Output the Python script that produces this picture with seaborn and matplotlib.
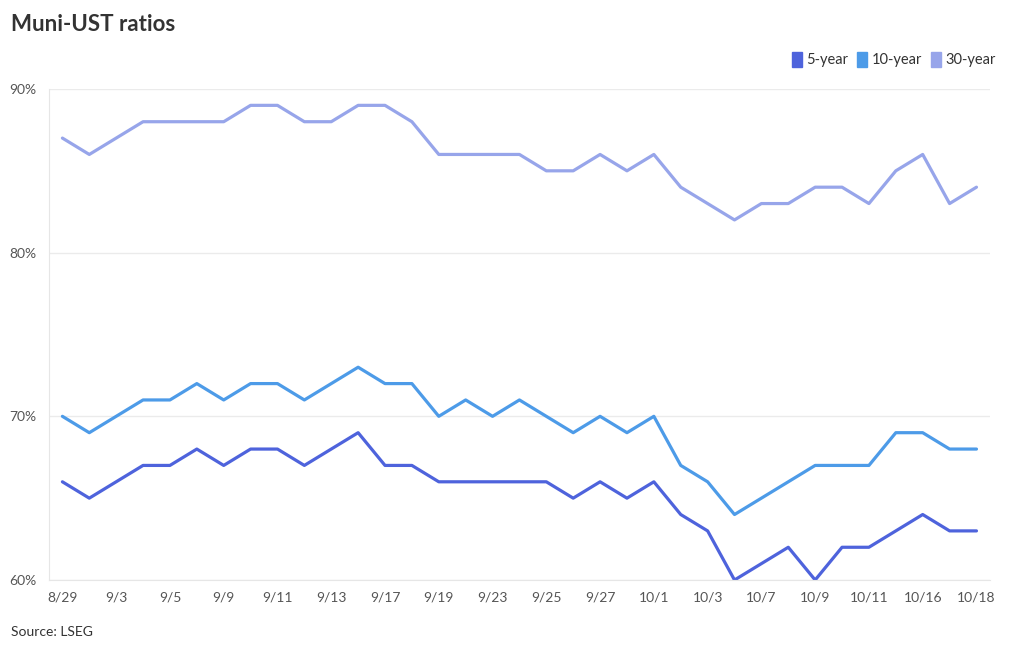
import matplotlib
matplotlib.use("Agg")
import matplotlib.pyplot as plt
import matplotlib.patches as mpatches
from matplotlib.ticker import FuncFormatter
import pandas as pd
import seaborn as sns

# Business days from 8/29 to 10/18
dates = ["8/29", "8/30", "9/3", "9/4", "9/5", "9/6", "9/9", "9/10", "9/11", "9/12",
         "9/13", "9/16", "9/17", "9/18", "9/19", "9/20", "9/23", "9/24", "9/25", "9/26",
         "9/27", "9/30", "10/1", "10/2", "10/3", "10/4", "10/7", "10/8", "10/9", "10/10",
         "10/11", "10/15", "10/16", "10/17", "10/18"]

# Muni/UST ratios in percent
five_year = [66, 65, 66, 67, 67, 68, 67, 68, 68, 67, 68, 69, 67, 67, 66, 66, 66, 66,
             66, 65, 66, 65, 66, 64, 63, 60, 61, 62, 60, 62, 62, 63, 64, 63, 63]
ten_year = [70, 69, 70, 71, 71, 72, 71, 72, 72, 71, 72, 73, 72, 72, 70, 71, 70, 71,
            70, 69, 70, 69, 70, 67, 66, 64, 65, 66, 67, 67, 67, 69, 69, 68, 68]
thirty_year = [87, 86, 87, 88, 88, 88, 88, 89, 89, 88, 88, 89, 89, 88, 86, 86, 86, 86,
               85, 85, 86, 85, 86, 84, 83, 82, 83, 83, 84, 84, 83, 85, 86, 83, 84]

series_names = ["5-year", "10-year", "30-year"]
colors = ["#4e63dc", "#4d9be8", "#97a5ea"]

df = pd.DataFrame({"Date": dates, "5-year": five_year,
                   "10-year": ten_year, "30-year": thirty_year})
df["pos"] = range(len(dates))
long_df = df.melt(id_vars=["Date", "pos"], var_name="Tenor", value_name="Ratio")

sns.set_style("white")
plt.rcParams["font.family"] = ["Lato", "DejaVu Sans"]

fig = plt.figure(figsize=(10.2, 6.5), dpi=100)
ax = fig.add_axes([0.048, 0.1077, 0.9225, 0.7554])

sns.lineplot(data=long_df, x="pos", y="Ratio", hue="Tenor", hue_order=series_names,
             palette=colors, linewidth=2.3, legend=False, ax=ax)
for line in ax.lines:
    line.set_solid_joinstyle("round")
    line.set_solid_capstyle("round")

ax.set_xlim(-0.5, len(dates) - 0.5)
ax.set_ylim(60, 90)
ax.set_yticks([60, 70, 80, 90])
ax.yaxis.set_major_formatter(FuncFormatter(lambda v, p: f"{v:.0f}%"))
ax.grid(axis="y", color="#ebebeb", linewidth=1)
ax.set_axisbelow(True)

# labels every other date, little ticks in between
ax.set_xticks(range(0, len(dates), 2))
ax.set_xticklabels(dates[::2])
ax.set_xticks(range(1, len(dates), 2), minor=True)
ax.tick_params(axis="x", which="major", length=0, pad=8, labelsize=10, labelcolor="#555555")
ax.tick_params(axis="x", which="minor", length=4, color="#dddddd", width=1)
ax.tick_params(axis="y", length=0, pad=9, labelsize=10, labelcolor="#555555")
ax.set_xlabel("")
ax.set_ylabel("")

for side in ["top", "right"]:
    ax.spines[side].set_visible(False)
ax.spines["left"].set_color("#e6e6e6")
ax.spines["bottom"].set_color("#e6e6e6")

handles = [mpatches.Patch(color=c, label=n) for c, n in zip(colors, series_names)]
fig.legend(handles=handles, loc="center right", bbox_to_anchor=(0.989, 0.908), ncol=3,
           frameon=False, fontsize=10.5, handlelength=0.7, handleheight=1.2,
           handletextpad=0.3, columnspacing=0.6, labelcolor="#333333")

fig.text(0.011, 0.963, "Muni-UST ratios", fontsize=16, fontweight="bold",
         color="#333333", va="center", ha="left")
fig.text(0.011, 0.028, "Source: LSEG", fontsize=10, color="#333333", va="center", ha="left")

fig.savefig("out.png", dpi=100)
